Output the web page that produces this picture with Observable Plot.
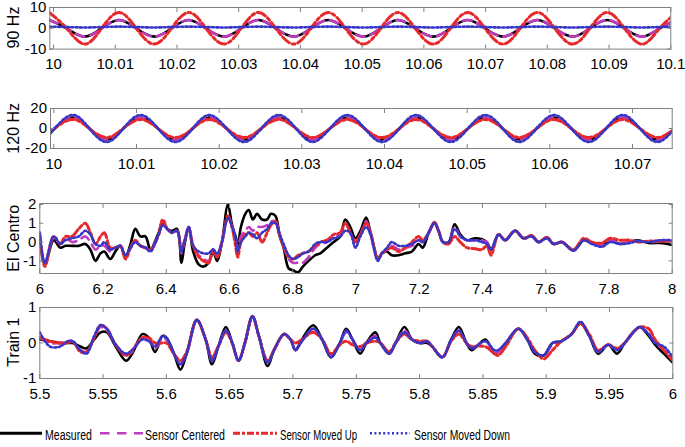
<!DOCTYPE html>
<html><head><meta charset="utf-8">
<script src="https://cdn.jsdelivr.net/npm/d3@7"></script>
<script src="https://cdn.jsdelivr.net/npm/@observablehq/plot@0.6"></script>
<style>
body{margin:0;background:#fff;}
#chart{position:relative;width:685px;height:447px;overflow:hidden;font-family:"Liberation Sans",Arial,sans-serif;}
#chart svg{position:absolute;left:0;}
</style></head><body><div id="chart"></div>
<script>
// ---------- series names ----------
const seriesNames = ["Measured", "Sensor Centered", "Sensor Moved Up", "Sensor Moved Down"];

// ---------- 90 Hz ----------
const hz90Time = [9.9993,10.0021,10.0050,10.0078,10.0106,10.0134,10.0163,10.0191,10.0219,10.0247,10.0276,10.0304,10.0332,10.0360,10.0389,10.0417,10.0445,10.0473,10.0502,10.0530,10.0558,10.0586,10.0615,10.0643,10.0671,10.0699,10.0728,10.0756,10.0784,10.0812,10.0841,10.0869,10.0897,10.0925,10.0954,10.0982,10.1010];
const hz90Measured = [4,0,-4,0,4,0,-4,0,4,0,-4,0,4,0,-4,0,4,0,-4,0,4,0,-4,0,4,0,-4,0,4,0,-4,0,4,0,-4,0,4];
const hz90Centered = [4,0,-4,0,4,0,-4,0,4,0,-4,0,4,0,-4,0,4,0,-4,0,4,0,-4,0,4,0,-4,0,4,0,-4,0,4,0,-4,0,4];
const hz90Up = [7.6,0,-7.6,0,7.6,0,-7.6,0,7.6,0,-7.6,0,7.6,0,-7.6,0,7.6,0,-7.6,0,7.6,0,-7.6,0,7.6,0,-7.6,0,7.6,0,-7.6,0,7.6,0,-7.6,0,7.6];
const hz90Down = [0.8,0.6,0.4,0.6,0.8,0.6,0.4,0.6,0.8,0.6,0.4,0.6,0.8,0.6,0.4,0.6,0.8,0.6,0.4,0.6,0.8,0.6,0.4,0.6,0.8,0.6,0.4,0.6,0.8,0.6,0.4,0.6,0.8,0.6,0.4,0.6,0.8];
const hz90XTicks = [10,10.01,10.02,10.03,10.04,10.05,10.06,10.07,10.08,10.09,10.1];
const hz90YTicks = [-10,0,10];

// ---------- 120 Hz ----------
const hz120Time = [9.9996,10.0001,10.0022,10.0043,10.0064,10.0084,10.0105,10.0126,10.0147,10.0168,10.0188,10.0209,10.0230,10.0251,10.0272,10.0293,10.0313,10.0334,10.0355,10.0376,10.0397,10.0418,10.0438,10.0459,10.0480,10.0501,10.0522,10.0543,10.0563,10.0584,10.0605,10.0626,10.0647,10.0668,10.0688,10.0709,10.0730,10.0751];
const hz120Measured = [-4,0,11,0,-11,0,11,0,-11,0,11,0,-11,0,11,0,-11,0,11,0,-11,0,11,0,-11,0,11,0,-11,0,11,0,-11,0,11,0,-11,0];
const hz120Centered = [-4,0,11,0,-11,0,11,0,-11,0,11,0,-11,0,11,0,-11,0,11,0,-11,0,11,0,-11,0,11,0,-11,0,11,0,-11,0,11,0,-11,0];
const hz120Up = [-3.3,0,9,0,-9,0,9,0,-9,0,9,0,-9,0,9,0,-9,0,9,0,-9,0,9,0,-9,0,9,0,-9,0,9,0,-9,0,9,0,-9,0];
const hz120Down = [-5,0,13.5,0,-13.5,0,13.5,0,-13.5,0,13.5,0,-13.5,0,13.5,0,-13.5,0,13.5,0,-13.5,0,13.5,0,-13.5,0,13.5,0,-13.5,0,13.5,0,-13.5,0,13.5,0,-13.5,0];
const hz120XTicks = [10,10.01,10.02,10.03,10.04,10.05,10.06,10.07];
const hz120YTicks = [-20,0,20];

// ---------- El Centro ----------
const elTime = [
  6.000,6.016,6.044,6.065,6.081,6.102,6.123,6.144,6.160,6.176,
  6.192,6.204,6.223,6.239,6.255,6.271,6.287,6.302,6.318,6.334,
  6.350,6.366,6.376,6.389,6.403,6.418,6.434,6.448,6.457,6.471,
  6.485,6.503,6.518,6.534,6.548,6.561,6.576,6.595,6.608,6.619,
  6.626,6.636,6.650,6.661,6.674,6.687,6.703,6.719,6.731,6.745,
  6.759,6.771,6.787,6.801,6.817,6.832,6.850,6.871,6.887,6.908,
  6.929,6.950,6.966,6.982,6.998,7.014,7.032,7.046,7.056,7.069,
  7.082,7.098,7.113,7.135,7.156,7.177,7.198,7.211,7.230,7.248,
  7.261,7.275,7.293,7.312,7.330,7.351,7.377,7.398,7.414,7.427,
  7.451,7.472,7.503,7.530,7.556,7.577,7.604,7.625,7.651,7.688,
  7.720,7.746,7.778,7.804,7.836,7.867,7.889,7.925,7.962,8.000];
const elMeasured = [
  0.3,-1.2,0.1,-0.3,-0.2,-0.2,-0.2,-0.1,-0.4,-1.0,
  -0.6,-0.5,-0.9,-0.5,-0.2,-0.8,-0.1,0.7,0.3,0.3,
  -0.4,0.1,0.5,1.1,0.7,0.6,0.7,-1.1,-0.2,0.8,
  -0.5,-1.2,-1.3,-1.1,-0.5,-1.0,0.0,2.0,0.9,0.3,
  -0.2,0.8,1.5,1.7,1.2,1.5,1.2,1.2,1.5,1.4,
  0.3,-0.3,-1.4,-1.5,-1.6,-1.3,-1.0,-0.7,-0.6,-0.3,
  0.0,0.3,1.2,0.8,0.2,0.6,1.3,0.5,-0.2,-0.9,
  -0.6,-0.5,-0.7,-0.7,-0.6,-0.5,-0.1,-0.3,0.5,1.05,
  0.6,0.0,0.0,0.95,0.4,0.1,0.2,0.15,0.0,-0.4,
  0.4,0.1,0.6,0.2,0.35,0.0,0.25,-0.1,0.0,-0.45,
  0.1,-0.05,-0.1,0.05,-0.1,0.0,0.1,-0.05,-0.05,-0.15];
const elCentered = [
  0.4,-1.1,0.2,-0.1,0.2,0.0,0.1,0.3,0.0,-0.4,
  -0.2,-0.2,-0.5,-0.3,-0.2,-0.8,-0.3,0.1,-0.2,-0.3,
  -0.4,0.0,0.4,1.0,0.7,0.5,0.6,-0.6,0.0,0.8,
  -0.2,-0.7,-0.9,-1.0,-0.4,-0.8,0.0,1.3,0.8,0.2,
  -0.3,0.3,0.6,0.8,0.6,0.8,0.8,0.9,1.1,1.1,
  0.4,-0.2,-0.9,-1.1,-1.1,-1.1,-0.8,-0.3,-0.1,0.0,
  0.3,0.4,1.0,0.5,0.0,0.4,1.1,0.5,-0.2,-0.9,
  -0.6,-0.4,-0.2,-0.4,-0.3,-0.2,0.1,0.0,0.5,1.0,
  0.6,0.0,0.0,0.8,0.3,0.1,0.1,0.1,0.0,-0.4,
  0.4,0.1,0.6,0.2,0.3,0.0,0.2,-0.1,0.0,-0.45,
  0.1,-0.05,-0.15,0.1,-0.05,0.0,0.05,0.0,0.05,0.05];
const elUp = [
  0.4,-1.3,0.3,-0.1,0.3,0.3,0.7,1.0,0.5,-0.1,
  0.3,0.5,-0.3,-0.3,-0.2,-0.9,-0.3,0.1,-0.2,-0.3,
  -0.4,0.0,0.4,1.2,0.7,0.5,0.6,-0.4,0.0,0.7,
  -0.2,-0.8,-1.0,-1.1,-0.4,-0.8,0.0,1.4,0.8,-0.2,
  -0.8,0.0,0.4,0.5,0.3,0.5,0.0,0.5,0.9,1.1,
  0.3,-0.2,-0.8,-0.9,-0.7,-0.6,-0.5,-0.2,0.0,0.1,
  0.4,0.5,1.0,0.5,0.0,0.4,1.0,0.5,-0.2,-0.9,
  -0.6,-0.4,-0.3,-0.5,-0.3,0.0,0.3,0.1,0.5,1.05,
  0.6,0.0,-0.1,0.3,0.0,-0.3,-0.35,-0.4,-0.2,-0.7,
  0.4,0.1,0.6,0.2,0.35,0.0,0.25,-0.1,0.0,-0.4,
  0.2,0.0,-0.05,0.2,0.1,0.1,0.0,0.05,0.05,0.05];
const elDown = [
  0.5,-1.1,0.3,-0.1,0.1,0.2,0.3,0.6,0.4,-0.1,
  -0.2,0.0,-0.4,-0.3,-0.2,-0.7,-0.3,0.0,-0.2,-0.3,
  -0.5,0.0,0.4,0.9,0.7,0.5,0.6,-0.5,0.0,0.8,
  -0.2,-0.5,-0.6,-0.6,-0.4,-0.6,0.0,1.3,0.8,0.2,
  -0.5,0.0,0.3,0.5,0.4,0.2,0.5,0.7,1.0,1.0,
  0.4,-0.1,-0.7,-0.9,-0.8,-0.6,-0.5,-0.1,0.0,0.0,
  0.2,0.3,0.6,0.5,-0.3,0.3,0.8,0.4,-0.3,-1.0,
  -0.6,-0.3,0.0,-0.2,-0.2,-0.1,0.1,0.0,0.5,1.0,
  0.6,0.0,0.0,0.7,0.3,0.1,0.1,0.0,-0.1,-0.4,
  0.4,0.1,0.6,0.2,0.3,0.0,0.2,-0.1,0.0,-0.45,
  0.1,-0.1,-0.25,0.0,-0.1,-0.05,0.05,0.0,0.1,0.1];
const elXTicks = [6,6.2,6.4,6.6,6.8,7,7.2,7.4,7.6,7.8,8];
const elYTicks = [-1,0,1,2];

// ---------- Train 1 ----------
const trTime = [
  5.500,5.508,5.516,5.522,5.526,5.532,5.537,5.543,5.548,5.553,
  5.560,5.568,5.573,5.581,5.586,5.591,5.597,5.600,5.606,5.611,
  5.616,5.624,5.631,5.636,5.641,5.647,5.652,5.657,5.662,5.668,
  5.673,5.680,5.685,5.693,5.698,5.702,5.707,5.716,5.723,5.730,
  5.737,5.742,5.747,5.753,5.758,5.765,5.769,5.776,5.781,5.788,
  5.794,5.800,5.806,5.810,5.818,5.825,5.831,5.837,5.841,5.852,
  5.859,5.862,5.868,5.878,5.885,5.891,5.898,5.905,5.912,5.920,
  5.927,5.934,5.941,5.949,5.956,5.962,5.970,5.974,5.981,5.986,
  5.993,6.000];
const trMeasured = [
  0.1,0.05,0.0,0.0,0.0,-0.1,-0.15,0.1,0.3,0.3,
  -0.1,-0.5,-0.3,0.25,0.15,-0.25,0.2,0.15,-0.3,-0.75,
  -0.3,0.65,0.1,-0.6,-0.1,0.45,0.0,-0.5,0.0,0.75,
  0.2,-0.65,-0.2,0.25,0.1,-0.2,0.1,0.5,0.1,-0.4,
  0.0,0.4,0.1,-0.3,0.0,0.3,0.0,-0.3,0.0,0.45,
  0.1,0.0,0.0,-0.1,-0.4,0.1,0.45,0.0,-0.2,0.1,
  -0.3,-0.25,0.0,0.4,0.1,-0.3,-0.35,0.0,0.05,0.25,
  0.55,0.2,-0.3,-0.05,-0.3,0.0,0.35,0.45,0.2,-0.05,
  -0.3,-0.55];
const trCentered = [
  0.15,0.0,0.0,0.05,0.05,-0.2,-0.25,0.15,0.45,0.35,
  -0.05,-0.35,-0.25,0.15,0.1,-0.15,0.15,0.1,-0.3,-0.6,
  -0.3,0.65,0.1,-0.5,-0.1,0.35,0.0,-0.5,0.0,0.75,
  0.2,-0.55,-0.2,0.25,0.1,-0.2,0.05,0.4,0.1,-0.35,
  0.0,0.3,0.1,-0.2,0.0,0.2,0.0,-0.3,0.0,0.35,
  0.1,0.0,0.05,-0.1,-0.4,0.1,0.35,0.0,-0.15,0.05,
  -0.25,-0.25,0.0,0.4,0.1,-0.25,-0.35,-0.05,0.05,0.25,
  0.55,0.2,-0.25,-0.05,-0.2,0.0,0.35,0.45,0.25,0.0,
  -0.2,-0.45];
const trUp = [
  0.15,0.05,0.0,0.0,0.05,-0.25,-0.25,0.15,0.5,0.4,
  -0.05,-0.35,-0.2,0.15,0.15,0.0,0.0,0.0,-0.3,-0.5,
  -0.25,0.65,0.1,-0.4,-0.1,0.3,0.0,-0.5,0.0,0.75,
  0.2,-0.5,-0.2,0.25,0.1,0.0,0.1,0.3,0.1,-0.3,
  -0.05,0.05,-0.05,-0.1,0.0,0.05,0.0,-0.25,0.0,0.25,
  0.1,0.05,0.05,-0.1,-0.4,0.05,0.25,0.0,-0.1,-0.1,
  -0.3,-0.35,-0.1,0.4,0.15,-0.2,-0.45,-0.2,0.05,0.25,
  0.55,0.25,-0.2,-0.05,-0.15,0.0,0.35,0.45,0.4,0.1,
  -0.2,-0.5];
const trDown = [
  0.3,-0.1,-0.1,0.05,0.05,-0.2,-0.3,0.2,0.5,0.4,
  -0.05,-0.3,-0.2,0.1,0.05,-0.1,0.2,0.15,-0.3,-0.6,
  -0.3,0.65,0.1,-0.5,-0.1,0.35,0.0,-0.5,0.0,0.75,
  0.2,-0.55,-0.2,0.25,0.1,-0.2,0.05,0.4,0.1,-0.4,
  0.0,0.35,0.1,-0.2,0.0,0.15,0.0,-0.3,0.0,0.3,
  0.1,0.0,0.05,-0.1,-0.4,0.1,0.35,0.0,-0.15,0.05,
  -0.2,-0.2,0.0,0.4,0.1,-0.25,-0.35,0.0,0.05,0.25,
  0.6,0.2,-0.25,-0.05,-0.2,0.0,0.35,0.45,0.25,0.0,
  -0.1,-0.4];
const trXTicks = [5.5,5.55,5.6,5.65,5.7,5.75,5.8,5.85,5.9,5.95,6];
const trYTicks = [-1,0,1];

// ---------- styles ----------
const lineStyles = [
  {stroke: "#000000", strokeWidth: 2.6},
  {stroke: "#c03cc0", strokeWidth: 2.6, strokeDasharray: "9,6"},
  {stroke: "#e8292b", strokeWidth: 3, strokeDasharray: "9,3,3,3"},
  {stroke: "#3535c8", strokeWidth: 2.6, strokeDasharray: "2,2.4"}
];
const gray = "#808080";
const fmt = d => String(+(+d).toFixed(2));
const FONT = "'Liberation Sans', Arial, sans-serif";
const chart = document.getElementById("chart");
const titles = [];

function panel(cfg) {
  const mt = 12, mb = 28;
  const ml = cfg.left, mr = 685 - cfg.right;
  const marks = [
    ...cfg.values.map((vals, i) => Plot.line(vals, {x: cfg.time, y: vals, ...lineStyles[i], curve: cfg.curve, clip: true})),
    Plot.frame({stroke: gray, strokeWidth: 1}),
    Plot.axisX(cfg.xTicks, {anchor: "bottom", tickSize: 4, dy: -4, tickFormat: () => "", stroke: gray, label: null}),
    Plot.axisX(cfg.xTicks, {anchor: "top", tickSize: 4, dy: 4, tickFormat: () => "", stroke: gray, label: null}),
    Plot.axisY(cfg.yTicks, {anchor: "left", tickSize: 4, dx: 4, tickFormat: () => "", stroke: gray, label: null}),
    Plot.axisY(cfg.yTicks, {anchor: "right", tickSize: 4, dx: -4, tickFormat: () => "", stroke: gray, label: null}),
    Plot.axisX(cfg.xTicks, {anchor: "bottom", tickSize: 0, tickPadding: 9.5, tickFormat: fmt, fontSize: 15, fill: "#000", label: null}),
    Plot.axisY(cfg.yTicks, {anchor: "left", tickSize: 0, tickPadding: 3.5, tickFormat: fmt, fontSize: 15, fill: "#000", label: null})
  ];
  const svg = Plot.plot({
    width: 685, height: mt + cfg.frameH + mb,
    marginTop: mt, marginBottom: mb, marginLeft: ml, marginRight: mr,
    x: {domain: cfg.xDomain, axis: null},
    y: {domain: cfg.yDomain, axis: null},
    style: {fontFamily: FONT, fontSize: "15px", background: "transparent", color: "#000", overflow: "visible"},
    marks
  });
  svg.style.top = (cfg.top - mt) + "px";
  chart.appendChild(svg);
  titles.push({text: cfg.yTitle, cy: cfg.top + cfg.frameH / 2});
}

panel({top: 6.7, left: 49.3, right: 670.3, frameH: 41.6, xDomain: [9.9994, 10.1], yDomain: [-10, 10],
  xTicks: hz90XTicks, yTicks: hz90YTicks, yTitle: "90 Hz", time: hz90Time,
  values: [hz90Measured, hz90Centered, hz90Up, hz90Down], curve: "natural"});
panel({top: 108.3, left: 50, right: 671.7, frameH: 40, xDomain: [9.9996, 10.0748], yDomain: [-20, 20],
  xTicks: hz120XTicks, yTicks: hz120YTicks, yTitle: "120 Hz", time: hz120Time,
  values: [hz120Measured, hz120Centered, hz120Up, hz120Down], curve: "natural"});
panel({top: 203.3, left: 39.3, right: 671.7, frameH: 70, xDomain: [6, 8], yDomain: [-1.67, 2.05],
  xTicks: elXTicks, yTicks: elYTicks, yTitle: "El Centro", time: elTime,
  values: [elMeasured, elCentered, elUp, elDown], curve: "catmull-rom"});
panel({top: 306.7, left: 39.3, right: 672.3, frameH: 71, xDomain: [5.5, 6], yDomain: [-1, 1],
  xTicks: trXTicks, yTicks: trYTicks, yTitle: "Train 1", time: trTime,
  values: [trMeasured, trCentered, trUp, trDown], curve: "catmull-rom"});

// ---------- rotated panel titles ----------
const ttl = d3.create("svg").attr("width", 30).attr("height", 447).style("top", "0px");
titles.forEach(t => {
  ttl.append("text").attr("transform", `translate(13,${t.cy}) rotate(-90)`)
    .attr("text-anchor", "middle").attr("dominant-baseline", "central")
    .attr("font-family", FONT).attr("font-size", 16).attr("fill", "#000").text(t.text);
});
chart.appendChild(ttl.node());

// ---------- legend ----------
const legendItems = [
  {x1: 0, x2: 42, tx: 45, tw: 47},
  {x1: 100, x2: 143, tx: 145, tw: 80},
  {x1: 233, x2: 277, tx: 280, tw: 77},
  {x1: 370, x2: 410, tx: 414, tw: 96}
];
const leg = d3.create("svg").attr("width", 685).attr("height", 27).style("top", "420px");
legendItems.forEach((it, i) => {
  const st = lineStyles[i];
  leg.append("line").attr("x1", it.x1).attr("x2", it.x2).attr("y1", 13.3).attr("y2", 13.3)
    .attr("stroke", st.stroke).attr("stroke-width", i === 0 ? 3 : st.strokeWidth)
    .attr("stroke-dasharray", i === 1 ? "9.5,7.5" : (i === 2 ? "7,2,3,2" : (st.strokeDasharray || null)));
  leg.append("text").attr("x", it.tx).attr("y", 19.5).text(seriesNames[i])
    .attr("font-family", FONT).attr("font-size", 15.5).attr("fill", "#000")
    .attr("textLength", it.tw).attr("lengthAdjust", "spacingAndGlyphs");
});
chart.appendChild(leg.node());
</script>
</body></html>
